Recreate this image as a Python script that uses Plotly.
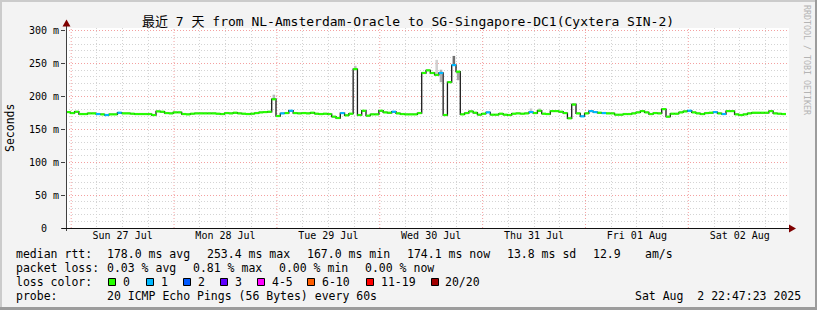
import pandas as pd
import plotly.graph_objects as go

# ---------------- data ----------------
end_time = pd.Timestamp("2025-08-02 22:47:23")
start_time = end_time - pd.Timedelta(days=7)

# hourly median RTT in ms (168 hours)
median_rtt = [
    176.5, 175, 177, 173.5, 173.5, 174.5, 174.5, 173.5, 173, 172, 173, 173,
    175.5, 174.5, 174.5, 174, 173.5, 173.5, 173.5, 173.5, 172, 177.5, 177, 175,
    174.5, 176, 176, 173.5, 173, 174, 174.5, 174.5, 174.5, 174.5, 174.5, 174,
    173.5, 175, 174.5, 175.5, 174.5, 174, 173.5, 174, 175, 176, 176.5, 177,
    196, 170.5, 174.5, 175, 178.5, 175, 174.5, 175, 174.5, 175.5, 174, 173.5,
    174, 173.5, 169.5, 167.5, 175, 171.5, 174, 242, 172, 178.5, 171, 173,
    173, 178.5, 176, 175.5, 177, 174.5, 173.5, 173, 173, 173, 175, 236,
    240, 236, 233, 236, 172, 222, 248, 238, 173, 175, 177.5, 175.5,
    172.5, 174, 176, 172.5, 172.5, 174, 172.5, 172, 174, 174.5, 174, 174.5,
    176.5, 175, 178.5, 174, 173.5, 178, 178, 177, 175, 167, 188, 174.5,
    170, 174.5, 178, 176.5, 175.5, 175, 174.5, 174.5, 172.5, 172.5, 173.5, 173.5,
    174.5, 176, 178, 176, 173.5, 175, 174.5, 181, 169.5, 174, 174, 176,
    177.5, 178.5, 176, 174.5, 173.5, 175, 175.5, 176.5, 174.5, 173.5, 178, 178,
    173, 172, 173, 174.5, 175.5, 175.5, 175.5, 175.5, 178, 174.5, 174, 173.5,
]

# hours in which 1 of 20 pings was lost
loss_hours = [7, 9, 12, 50, 52, 64, 76, 87, 90, 98, 108, 120, 122, 123, 125, 145, 151, 153]
loss_pings = [1] * len(loss_hours)

# "smoke" (ping spread) visible around spikes
smoke_hours = [48, 67, 86, 87, 90, 91, 108, 110]
smoke_lo = [195, 240, 233, 222, 248, 225, 176.5, 178.5]
smoke_hi = [203, 247, 256, 241, 262, 238, 182, 182]
smoke_shade = ["#b8b8b8", "#c0c0c0", "#d0d0d0", "#b0b0b0", "#707070", "#a8a8a8", "#c8c8c8", "#c8c8c8"]

loss_labels = ["0", "1", "2", "3", "4-5", "6-10", "11-19", "20/20"]
loss_colors = ["#26ff00", "#00b8ff", "#0059ff", "#5e00ff", "#ff00ff", "#ff5e00", "#ff0000", "#a10000"]

y_tick_vals = [0, 50, 100, 150, 200, 250, 300]
y_tick_labels = ["0\u00a0\u00a0", "50 m", "100 m", "150 m", "200 m", "250 m", "300 m"]
x_tick_labels = ["Sun 27 Jul", "Mon 28 Jul", "Tue 29 Jul", "Wed 30 Jul", "Thu 31 Jul", "Fri 01 Aug", "Sat 02 Aug"]

stats_rtt = ["178.0 ms avg", "253.4 ms max", "167.0 ms min", "174.1 ms now", "13.8 ms sd", "12.9", "am/s"]
stats_loss = ["0.03 % avg", "0.81 % max", "0.00 % min", "0.00 % now"]
probe_text = "20 ICMP Echo Pings (56 Bytes) every 60s"
stamp_text = "Sat Aug\u00a0\u00a02 22:47:23 2025"
title_text = "最近 7 天 from NL-Amsterdam-Oracle to SG-Singapore-DC1(Cyxtera SIN-2)"

# ---------------- layout geometry ----------------
W, H = 817, 310
ML, MR, MT, MB = 66, 28, 28, 82
PW, PH = W - ML - MR, H - MT - MB


def px(x):
    return (x - ML) / PW


def py(y):
    return (H - MB - y) / PH


MONO = "DejaVu Sans Mono, Noto Sans CJK SC, monospace"

hours = len(median_rtt)
t_start = [start_time + pd.Timedelta(hours=h) for h in range(hours)]
t_end = t_start[1:] + [end_time]
loss_map = dict(zip(loss_hours, loss_pings))


def bucket(n):
    if n == 0:
        return 0
    if n <= 3:
        return n
    if n <= 5:
        return 4
    if n <= 10:
        return 5
    if n <= 19:
        return 6
    return 7


fig = go.Figure()

# smoke
fig.add_trace(go.Bar(
    x=[t_start[h] + pd.Timedelta(minutes=30) for h in smoke_hours],
    y=[hi - lo for lo, hi in zip(smoke_lo, smoke_hi)],
    base=smoke_lo,
    width=[0.6 * 3600000] * len(smoke_hours),
    marker=dict(color=smoke_shade, line=dict(width=0)),
    hoverinfo="skip", showlegend=False,
))

# black step line (vertical transitions)
fig.add_trace(go.Scatter(
    x=t_start + [end_time], y=median_rtt + [median_rtt[-1]],
    mode="lines", line=dict(color="#1a1a1a", width=1.3, shape="hv"),
    hoverinfo="skip", showlegend=False,
))

# loss-coloured horizontal segments
for b, col in enumerate(loss_colors):
    xs, ys = [], []
    for h in range(hours):
        if bucket(loss_map.get(h, 0)) == b:
            xs += [t_start[h], t_end[h], None]
            ys += [median_rtt[h], median_rtt[h], None]
    if xs:
        fig.add_trace(go.Scatter(
            x=xs, y=ys, mode="lines", line=dict(color=col, width=2.2),
            hoverinfo="skip", showlegend=False,
        ))

# ---------------- axes ----------------
day0 = pd.Timestamp("2025-07-27")
noon_ticks = [day0 + pd.Timedelta(days=i, hours=12) for i in range(len(x_tick_labels))]
midnights = [day0 + pd.Timedelta(days=i) for i in range(len(x_tick_labels))]

fig.update_xaxes(
    type="date",
    range=[start_time, end_time + pd.Timedelta(minutes=42)],
    tickmode="array", tickvals=noon_ticks, ticktext=x_tick_labels,
    tickfont=dict(family=MONO, size=10, color="#000"),
    ticks="", showline=False, zeroline=False,
    showgrid=True, gridcolor="#d4d4d4", griddash="1px,2px", gridwidth=1,
    minor=dict(tick0=day0 + pd.Timedelta(hours=6), dtick=12 * 3600000,
               showgrid=True, gridcolor="#d4d4d4", griddash="1px,2px", gridwidth=1, ticks=""),
    fixedrange=True,
)
fig.update_yaxes(
    range=[0, 304.5],
    tickmode="array", tickvals=y_tick_vals, ticktext=y_tick_labels,
    tickfont=dict(family=MONO, size=10, color="#000"),
    ticks="outside", ticklen=4, tickcolor="#404040", tickwidth=1,
    showline=False, zeroline=False,
    showgrid=True, gridcolor="#f4a0a0", griddash="1px,2px", gridwidth=1,
    minor=dict(dtick=10, showgrid=True, gridcolor="#d4d4d4", griddash="1px,2px", gridwidth=1),
    fixedrange=True,
)

shapes = []
for m in midnights:
    shapes.append(dict(type="line", xref="x", yref="paper", x0=m, x1=m, y0=0, y1=1,
                       line=dict(color="#f4a0a0", width=1, dash="1px,2px"), layer="below"))

# axis lines and arrows
shapes.append(dict(type="line", xref="paper", yref="paper", x0=px(66.5), x1=px(66.5),
                   y0=py(231), y1=py(25), line=dict(color="#404040", width=1)))
shapes.append(dict(type="line", xref="paper", yref="paper", x0=px(62), x1=px(790),
                   y0=py(228.5), y1=py(228.5), line=dict(color="#111", width=1)))
shapes.append(dict(type="path", xref="paper", yref="paper",
                   path=f"M {px(66.5)} {py(19.5)} L {px(62.5)} {py(26.5)} L {px(70.5)} {py(26.5)} Z",
                   fillcolor="#7f0000", line=dict(width=0)))
shapes.append(dict(type="path", xref="paper", yref="paper",
                   path=f"M {px(796)} {py(228.5)} L {px(789)} {py(224.5)} L {px(789)} {py(232.5)} Z",
                   fillcolor="#7f0000", line=dict(width=0)))

# outer shade frame
shapes.append(dict(type="rect", xref="paper", yref="paper", x0=px(0), x1=px(W), y0=py(0), y1=py(2),
                   fillcolor="#cbcbcb", line=dict(width=0)))
shapes.append(dict(type="rect", xref="paper", yref="paper", x0=px(0), x1=px(2), y0=py(0), y1=py(H),
                   fillcolor="#cbcbcb", line=dict(width=0)))
shapes.append(dict(type="rect", xref="paper", yref="paper", x0=px(0), x1=px(W), y0=py(H - 3), y1=py(H),
                   fillcolor="#9c9c9c", line=dict(width=0)))
shapes.append(dict(type="rect", xref="paper", yref="paper", x0=px(W - 2), x1=px(W), y0=py(0), y1=py(H),
                   fillcolor="#9c9c9c", line=dict(width=0)))

# loss colour swatches
swatch_x = [108, 146, 183, 220, 257, 307, 366, 431]
label_x = [123, 161, 198, 235, 272, 322, 381, 445]
for sx, col in zip(swatch_x, loss_colors):
    shapes.append(dict(type="rect", xref="paper", yref="paper",
                       x0=px(sx + 0.5), x1=px(sx + 7.5), y0=py(285.5), y1=py(278.5),
                       fillcolor=col, line=dict(color="#000", width=1)))

ann = []


def text(t, x, y, anchor="left", size=11.5, color="#000", angle=0):
    ann.append(dict(text=t, x=px(x), y=py(y), xref="paper", yref="paper",
                    xanchor=anchor, yanchor="middle", showarrow=False,
                    font=dict(family=MONO, size=size, color=color),
                    borderpad=0, borderwidth=0, textangle=angle))


text(title_text, 408, 21, anchor="center", size=13)
text("Seconds", 10, 128, anchor="center", size=11.5, angle=-90)
text("RRDTOOL / TOBI OETIKER", 807, 60, anchor="center", size=8.3, color="#b4b4b4", angle=90)

ROW = [254, 268, 282, 296]
text("median rtt:", 16, ROW[0])
for t, x in zip(stats_rtt, [107, 207, 307, 407, 507, 593, 645]):
    text(t, x, ROW[0])
text("packet loss:", 16, ROW[1])
for t, x in zip(stats_loss, [107, 193, 279, 365]):
    text(t, x, ROW[1])
text("loss color:", 16, ROW[2])
for t, x in zip(loss_labels, label_x):
    text(t, x, ROW[2])
text("probe:", 16, ROW[3])
text(probe_text, 107, ROW[3])
text(stamp_text, 801, ROW[3], anchor="right")

fig.update_layout(
    width=W, height=H,
    margin=dict(l=ML, r=MR, t=MT, b=MB),
    paper_bgcolor="#f3f3f3", plot_bgcolor="#ffffff",
    showlegend=False, barmode="overlay",
    shapes=shapes, annotations=ann,
    font=dict(family=MONO),
)

fig.write_html("out.html", config={"displayModeBar": False})
